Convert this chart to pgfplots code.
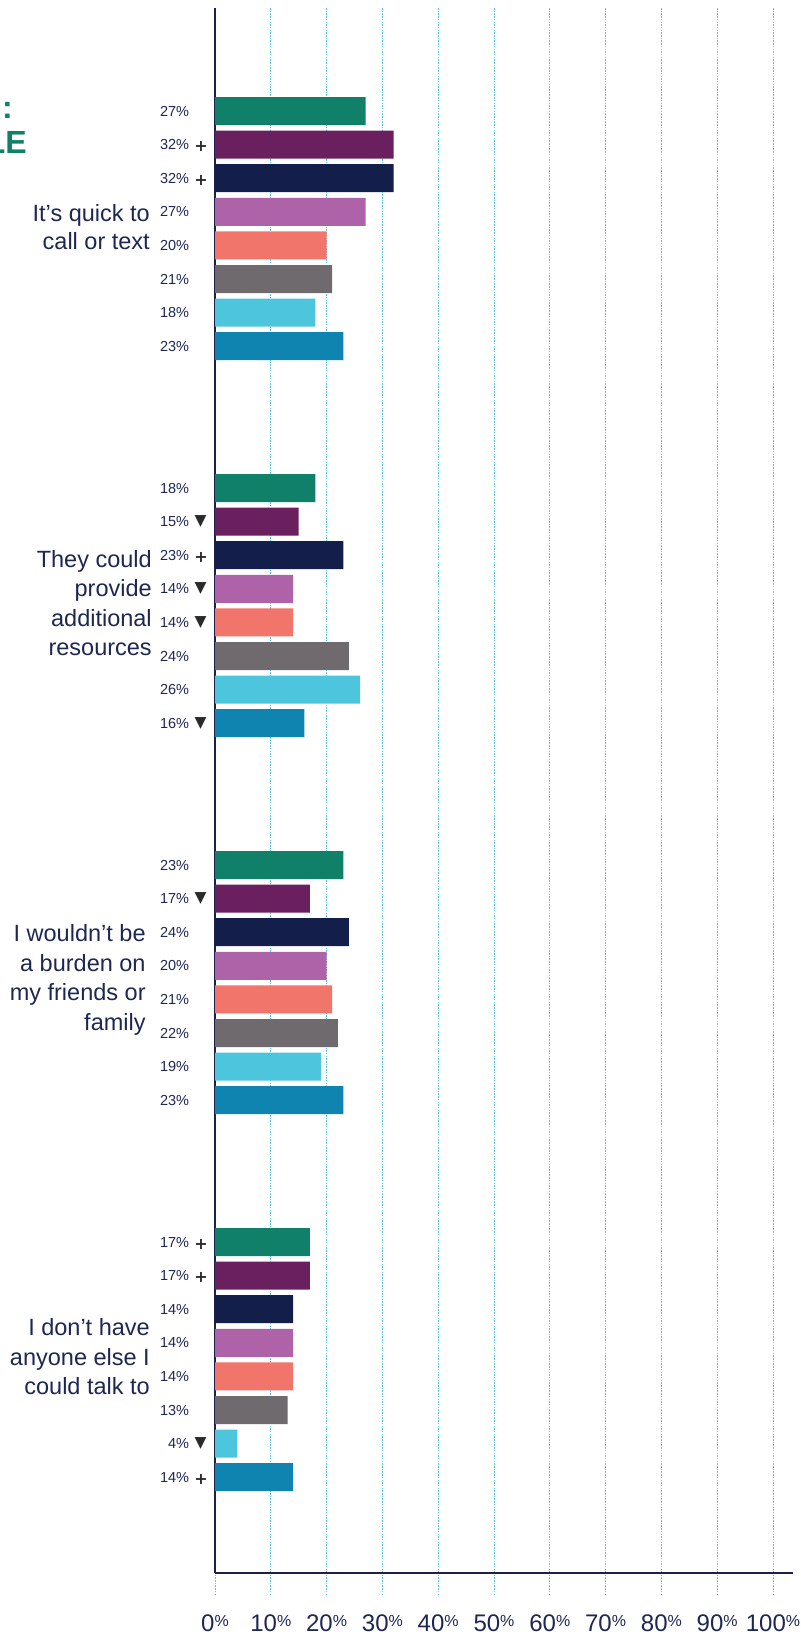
\documentclass[border=0pt]{standalone}
\usepackage{pgfplots}
\pgfplotsset{compat=1.18}
\usepackage{fontspec}
\setmainfont{Liberation Sans}
\newfontfamily\symfont{DejaVu Sans}
\definecolor{c1}{HTML}{118068}
\definecolor{c2}{HTML}{6A1F5E}
\definecolor{c3}{HTML}{131E4B}
\definecolor{c4}{HTML}{AE62A8}
\definecolor{c5}{HTML}{F1756B}
\definecolor{c6}{HTML}{6E6A6E}
\definecolor{c7}{HTML}{4DC5DD}
\definecolor{c8}{HTML}{0F84B0}
\definecolor{gridc}{HTML}{5BC8E0}
\definecolor{axisc}{HTML}{1B2148}
\definecolor{txt}{HTML}{1E2752}
\definecolor{mk}{HTML}{2A2A2A}
\newcommand\pct[1]{#1\raisebox{5bp}{\fontsize{16bp}{16bp}\selectfont\%}}
\newcommand\vl[2]{\node[anchor=east, inner sep=0pt, font=\fontsize{14.5bp}{14.5bp}\selectfont, text=txt] at (axis cs:-4.6,#1) {#2\%};}
\newcommand\mkplus[1]{\node[inner sep=0pt, font=\symfont\bfseries\fontsize{16bp}{16bp}\selectfont, text=mk] at (axis cs:-2.5,#1+2) {+};}
\newcommand\mkdown[1]{\node[inner sep=0pt, font=\symfont\fontsize{15.5bp}{15.5bp}\selectfont, text=mk] at (axis cs:-2.6,#1) {▼};}
\begin{document}
\begin{tikzpicture}
\useasboundingbox (0bp,0bp) rectangle (801bp,-1637bp);
\node[anchor=base east, inner sep=0pt, font=\bfseries\fontsize{32bp}{32bp}\selectfont, text=c1] at (27bp,-153bp) {LE};
\node[anchor=base west, inner sep=0pt, font=\bfseries\fontsize{32bp}{32bp}\selectfont, text=c1] at (2bp,-118bp) {:};
\begin{axis}[
  at={(215bp,-1573bp)}, anchor=south west,
  x=5.58bp, y=1bp, y dir=reverse,
  xmin=0, xmax=103.6, ymin=8, ymax=1573,
  axis x line*=bottom, axis y line*=left,
  axis line style={-, line width=2.8bp, draw=axisc},
  ytick=\empty,
  xtick={0,10,...,100},
  xticklabels={\pct{0},\pct{10},\pct{20},\pct{30},\pct{40},\pct{50},\pct{60},\pct{70},\pct{80},\pct{90},\pct{100}},
  xmajorgrids,
  grid style={draw=gridc, line width=1bp, dash pattern=on 1.5bp off 1.2bp},
  tick align=outside, major tick length=22bp,
  xtick style={draw=gridc, line width=1bp, dash pattern=on 1.5bp off 1.2bp},
  xticklabel style={font=\fontsize{24bp}{24bp}\selectfont, text=txt, anchor=north, inner sep=0pt, yshift=-20bp},
  clip=false,
  xbar, bar width=28, bar shift=0pt,
]
\addplot[draw=none, fill=c1] coordinates {(27,111) (18,488) (23,865) (17,1242)};
\addplot[draw=none, fill=c2] coordinates {(32,144.6) (15,521.6) (17,898.6) (17,1275.6)};
\addplot[draw=none, fill=c3] coordinates {(32,178.2) (23,555.2) (24,932.2) (14,1309.2)};
\addplot[draw=none, fill=c4] coordinates {(27,211.8) (14,588.8) (20,965.8) (14,1342.8)};
\addplot[draw=none, fill=c5] coordinates {(20,245.4) (14,622.4) (21,999.4) (14,1376.4)};
\addplot[draw=none, fill=c6] coordinates {(21,279) (24,656) (22,1033) (13,1410)};
\addplot[draw=none, fill=c7] coordinates {(18,312.6) (26,689.6) (19,1066.6) (4,1443.6)};
\addplot[draw=none, fill=c8] coordinates {(23,346.2) (16,723.2) (23,1100.2) (14,1477.2)};
% value labels group 1
\vl{111}{27}\vl{144.6}{32}\vl{178.2}{32}\vl{211.8}{27}\vl{245.4}{20}\vl{279}{21}\vl{312.6}{18}\vl{346.2}{23}
\mkplus{144.6}\mkplus{178.2}
% group 2
\vl{488}{18}\vl{521.6}{15}\vl{555.2}{23}\vl{588.8}{14}\vl{622.4}{14}\vl{656}{24}\vl{689.6}{26}\vl{723.2}{16}
\mkdown{521.6}\mkplus{555.2}\mkdown{588.8}\mkdown{622.4}\mkdown{723.2}
% group 3
\vl{865}{23}\vl{898.6}{17}\vl{932.2}{24}\vl{965.8}{20}\vl{999.4}{21}\vl{1033}{22}\vl{1066.6}{19}\vl{1100.2}{23}
\mkdown{898.6}
% group 4
\vl{1242}{17}\vl{1275.6}{17}\vl{1309.2}{14}\vl{1342.8}{14}\vl{1376.4}{14}\vl{1410}{13}\vl{1443.6}{4}\vl{1477.2}{14}
\mkplus{1242}\mkplus{1275.6}\mkdown{1443.6}\mkplus{1477.2}
% category labels
\node[anchor=east, align=right, inner sep=0pt, font=\fontsize{23.5bp}{28.5bp}\selectfont, text=txt] at (axis cs:-11.65,227) {It’s quick to\\call or text};
\node[anchor=east, align=right, inner sep=0pt, font=\fontsize{23.5bp}{29.5bp}\selectfont, text=txt] at (axis cs:-11.3,603) {They could\\provide\\additional\\resources};
\node[anchor=east, align=right, inner sep=0pt, font=\fontsize{23.5bp}{29.5bp}\selectfont, text=txt] at (axis cs:-12.4,980) {I wouldn’t be\\a burden on\\my friends or\\family};
\node[anchor=east, align=right, inner sep=0pt, font=\fontsize{23.5bp}{29.5bp}\selectfont, text=txt] at (axis cs:-11.65,1357) {I don’t have\\anyone else I\\could talk to};
\end{axis}
\end{tikzpicture}
\end{document}
